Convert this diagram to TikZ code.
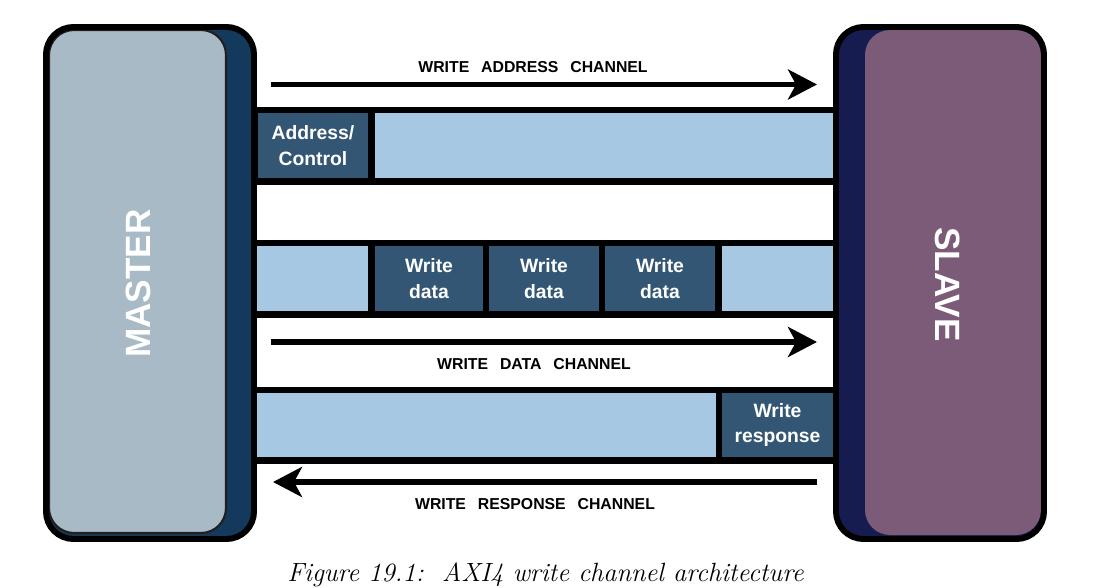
\documentclass[tikz,border=0pt]{standalone}
\usepackage{fontspec}
\setsansfont{Liberation Sans}
\usepackage{tikz}
\usetikzlibrary{positioning, arrows.meta}
\definecolor{MasterGrey}{HTML}{A8BAC5}
\definecolor{MasterBlue}{HTML}{133A5C}
\definecolor{SlaveNavy}{HTML}{161C50}
\definecolor{SlavePurple}{HTML}{7B5B77}
\definecolor{LaneBlue}{HTML}{A6C8E3}
\definecolor{CellBlue}{HTML}{325673}
\definecolor{Outline}{HTML}{231F20}

\begin{document}
\begin{tikzpicture}[x=0.02cm, y=-0.02cm,
    lane/.style={fill=black},
    slot/.style={fill=LaneBlue, inner sep=0pt, minimum height=1.3cm},
    beat/.style={fill=CellBlue, inner sep=0pt, minimum height=1.3cm, text=white, align=center, font=\sffamily\bfseries\fontsize{11}{14.5}\selectfont},
    chan/.style={font=\sffamily\bfseries\fontsize{9}{11}\selectfont},
    bus/.style={line width=3.4pt, -{Stealth[length=0.58cm, width=0.6cm, inset=0.16cm]}},
    unit/.style={text=white, font=\sffamily\bfseries\fontsize{20}{24}\selectfont}
]
\path[use as bounding box, clip] (0,0) rectangle (1093,588);

% Lanes
\fill[lane] (250,107) rectangle (840,185);
\fill[lane] (250,240) rectangle (840,318);
\fill[lane] (250,387) rectangle (840,464);

% Write address lane
\node[beat, minimum width=2.2cm] (addr) at (313,145.5) {Address/\\Control};
\node[slot, minimum width=9.16cm] (addrfree) at (604,145.5) {};

% Write data lane
\node[slot, minimum width=2.22cm] (lead) at (312.5,278.5) {};
\node[beat, minimum width=2.16cm] (wd1) at (429,278.5) {Write\\data};
\node[beat, minimum width=2.2cm] (wd2) at (544,278.5) {Write\\data};
\node[beat, minimum width=2.2cm] (wd3) at (660,278.5) {Write\\data};
\node[slot, minimum width=2.22cm] (trail) at (777.5,278.5) {};

% Write response lane
\node[slot, minimum width=9.18cm] (respfree) at (486.5,425) {};
\node[beat, minimum width=2.22cm] (resp) at (777.5,425) {Write\\response};

% Master
\fill[MasterBlue, rounded corners=0.55cm] (46,27) rectangle (254,539);
\draw[Outline, line width=1.2pt, fill=MasterGrey, rounded corners=0.5cm] (49,30) rectangle (226,533);
\draw[line width=3.4pt, rounded corners=0.55cm] (46,27) rectangle (254,539);
\node[unit, rotate=90] (master) at (138.5,283.5) {MASTER};

% Slave
\fill[SlaveNavy, rounded corners=0.55cm] (836,27) rectangle (1044,539);
\fill[SlavePurple, rounded corners=0.5cm] (865,30) rectangle (1041,535);
\draw[line width=3.4pt, rounded corners=0.55cm] (836,27) rectangle (1044,539);
\node[unit, rotate=-90] (slave) at (947.5,284.5) {SLAVE};

% Channels
\coordinate (wa-s) at (271,84.5);
\coordinate (wa-e) at (817,84.5);
\draw[bus] (wa-s) -- (wa-e);
\node[chan] (wa) at (533,67.5) {WRITE\hspace{0.75em}ADDRESS\hspace{0.75em}CHANNEL};

\coordinate (wd-s) at (271,342);
\coordinate (wd-e) at (817,342);
\draw[bus] (wd-s) -- (wd-e);
\node[chan] (wd) at (534,364) {WRITE\hspace{0.75em}DATA\hspace{0.75em}CHANNEL};

\coordinate (wr-s) at (817,482);
\coordinate (wr-e) at (273,482);
\draw[bus] (wr-s) -- (wr-e);
\node[chan] (wr) at (535,504) {WRITE\hspace{0.75em}RESPONSE\hspace{0.75em}CHANNEL};

% Caption
\node[anchor=base, font=\itshape\fontsize{15}{18}\selectfont] (caption) at (545.5,581) {Figure 19.1:\ \ AXI4 write channel architecture};

\end{tikzpicture}
\end{document}
